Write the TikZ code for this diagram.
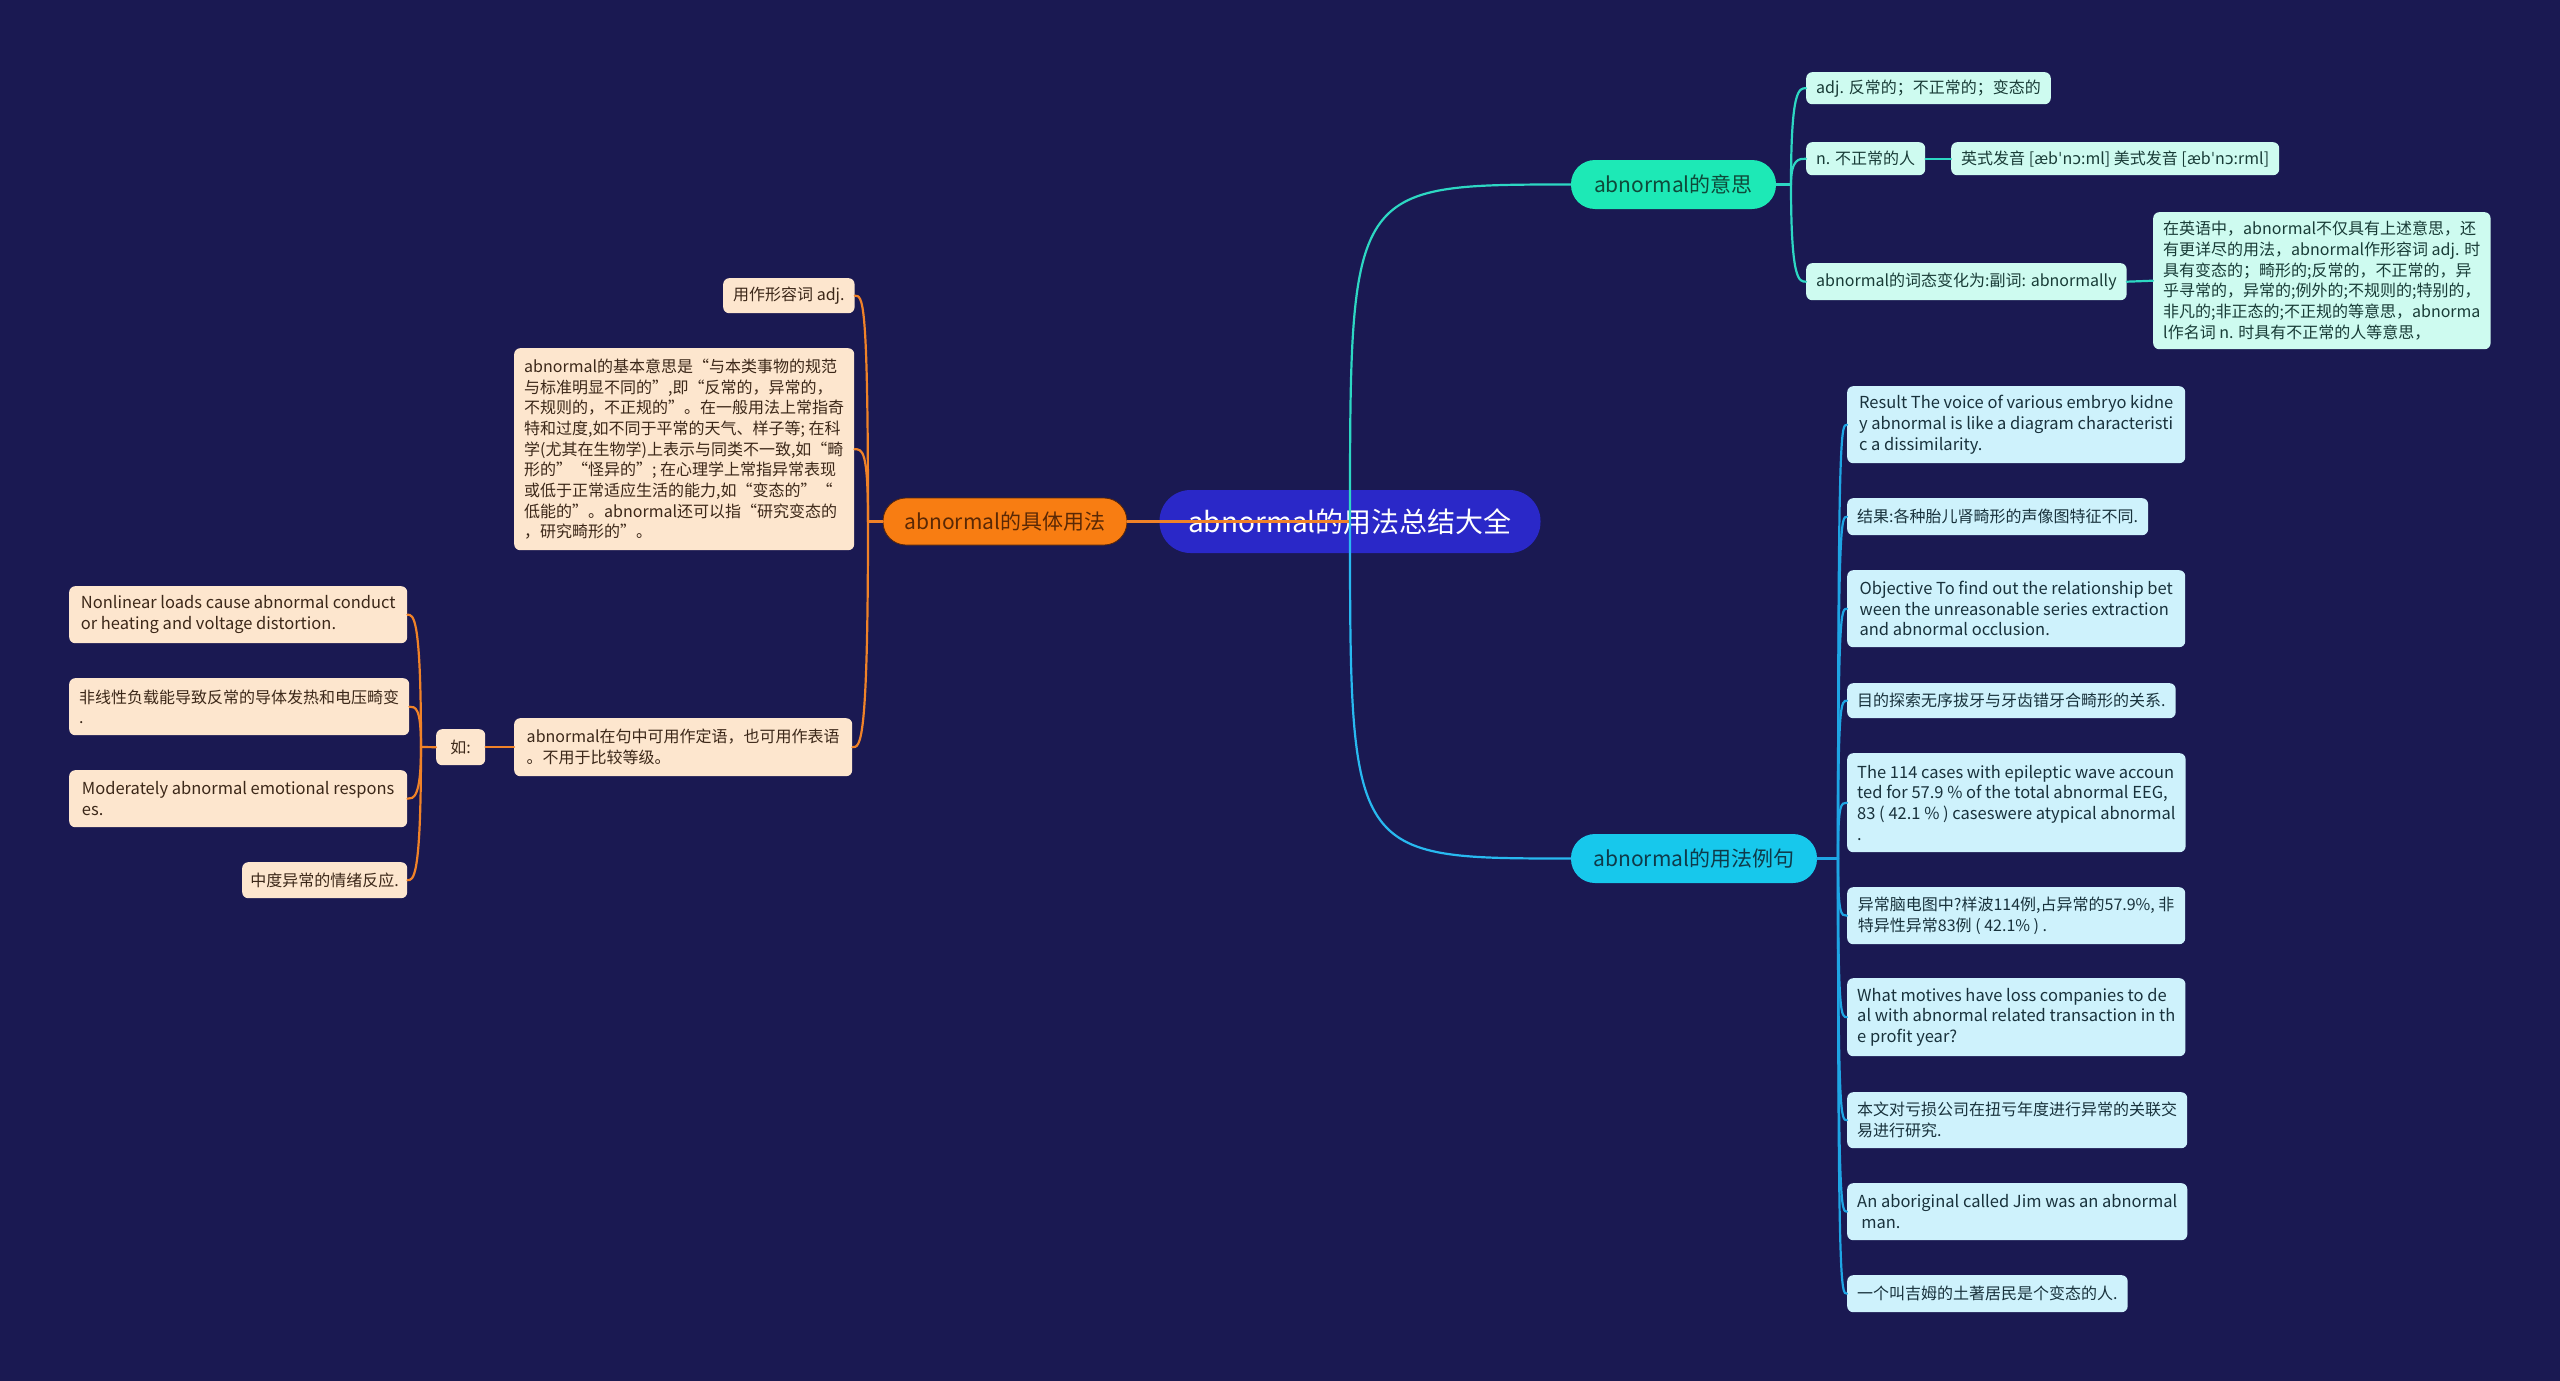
\documentclass[tikz,border=0pt]{standalone}
\usepackage{fontspec}
\setmainfont{Noto Sans CJK SC}
\newfontfamily\ipafont{DejaVu Sans}
\usetikzlibrary{calc}
\definecolor{bg}{RGB}{26,25,82}
\definecolor{rootblue}{RGB}{42,40,200}
\definecolor{orangeN}{RGB}{248,125,18}
\definecolor{orangeL}{RGB}{240,130,40}
\definecolor{brownT}{RGB}{90,40,5}
\definecolor{peach}{RGB}{253,230,206}
\definecolor{peachT}{RGB}{60,40,25}
\definecolor{tealN}{RGB}{29,233,182}
\definecolor{tealL}{RGB}{45,215,195}
\definecolor{mint}{RGB}{206,251,240}
\definecolor{mintT}{RGB}{25,60,55}
\definecolor{tealT}{RGB}{14,74,58}
\definecolor{skyN}{RGB}{23,200,236}
\definecolor{skyL}{RGB}{30,165,228}
\definecolor{skyR}{RGB}{40,185,240}
\definecolor{sky}{RGB}{206,242,252}
\definecolor{skyT}{RGB}{25,50,60}
\definecolor{skyNT}{RGB}{14,58,74}
\begin{document}
\begin{tikzpicture}[x=1pt,y=-1pt,
  wh/.style 2 args={minimum width=#1, minimum height=#2},
  leaf/.style={rounded corners=6pt, inner xsep=10pt, inner ysep=4pt, align=left, anchor=north west, font=\fontsize{16}{20.7}\selectfont},
  eng/.style={font=\fontsize{16.5}{20.7}\selectfont},
  pleaf/.style={leaf, fill=peach, text=peachT},
  tleaf/.style={leaf, fill=mint, text=mintT},
  cleaf/.style={leaf, fill=sky, text=skyT},
  branch/.style={inner sep=0pt, font=\fontsize{21}{25}\selectfont},
  con/.style={line width=2.2pt, line cap=round},
  ocon/.style={con, draw=orangeL},
  tcon/.style={con, draw=tealL},
  ccon/.style={con, draw=skyL}
]
\useasboundingbox (0,0) rectangle (2560,1381);
\fill[bg] (0,0) rectangle (2560,1381);

% root
\node[fill=rootblue, text=white, font=\fontsize{28}{34}\selectfont, inner sep=0pt, minimum width=381pt, minimum height=63pt, rounded corners=31pt] (root) at (1350,521.5) {abnormal的用法总结大全};

% branches
\node[branch, fill=orangeN, draw={rgb,255:red,90;green,40;blue,10}, line width=0.8pt, text=brownT, minimum width=244pt, minimum height=47pt, rounded corners=23pt] (jt) at (1005,521.5) {abnormal的具体用法};
\node[branch, fill=tealN, text=tealT, minimum width=205pt, minimum height=49pt, rounded corners=24pt] (yisi) at (1673.5,184.5) {abnormal的意思};
\node[branch, fill=skyN, text=skyNT, minimum width=246pt, minimum height=49pt, rounded corners=24pt] (lj) at (1694,858.5) {abnormal的用法例句};

% left leaves
\node[pleaf, wh={129pt}{35pt}] (padj) at (723,278) {用作形容词 adj.};
\node[pleaf, wh={338pt}{202pt}] (pbig) at (514,348) {abnormal的基本意思是“与本类事物的规范\\与标准明显不同的”,即“反常的，异常的，\\不规则的，不正规的”。在一般用法上常指奇\\特和过度,如不同于平常的天气、样子等; 在科\\学(尤其在生物学)上表示与同类不一致,如“畸\\形的”“怪异的”; 在心理学上常指异常表现\\或低于正常适应生活的能力,如“变态的”“\\低能的”。abnormal还可以指“研究变态的\\，研究畸形的”。};
\node[pleaf, wh={338pt}{58pt}] (pjz) at (514,718) {abnormal在句中可用作定语，也可用作表语\\。不用于比较等级。};
\node[pleaf, inner xsep=6pt, wh={49pt}{36pt}] (ru) at (436,729) {如:};
\node[pleaf, eng, wh={338pt}{57pt}] (pnl) at (69,586) {Nonlinear loads cause abnormal conduct\\or heating and voltage distortion.};
\node[pleaf, wh={338pt}{57pt}] (pfx) at (69,678) {非线性负载能导致反常的导体发热和电压畸变\\.};
\node[pleaf, eng, wh={338pt}{57pt}] (pmd) at (69,770) {Moderately abnormal emotional respons\\es.};
\node[pleaf, inner xsep=8pt, wh={165pt}{36pt}] (pzd) at (242,862) {中度异常的情绪反应.};

% meaning leaves
\node[tleaf, wh={241pt}{32pt}] (tadj) at (1806,72) {adj. 反常的；不正常的；变态的};
\node[tleaf, wh={114pt}{33pt}] (tn) at (1806,142) {n. 不正常的人};
\node[tleaf, wh={323pt}{33pt}] (tys) at (1951,142) {英式发音 [æb{\ipafont ˈ}n{\ipafont ɔ}:ml] 美式发音 [æb{\ipafont ˈ}n{\ipafont ɔ}:rml]};
\node[tleaf, wh={317pt}{37pt}] (tct) at (1806,263) {abnormal的词态变化为:副词: abnormally};
\node[tleaf, wh={337pt}{137pt}] (tzy) at (2153,212) {在英语中，abnormal不仅具有上述意思，还\\有更详尽的用法，abnormal作形容词 adj. 时\\具有变态的；畸形的;反常的，不正常的，异\\乎寻常的，异常的;例外的;不规则的;特别的，\\非凡的;非正态的;不正规的等意思，abnorma\\l作名词 n. 时具有不正常的人等意思，};

% example leaves
\node[cleaf, eng, wh={338pt}{77pt}] (c1) at (1847,386) {Result The voice of various embryo kidne\\y abnormal is like a diagram characteristi\\c a dissimilarity.};
\node[cleaf, wh={297pt}{37pt}] (c2) at (1847,498) {结果:各种胎儿肾畸形的声像图特征不同.};
\node[cleaf, eng, wh={338pt}{77pt}] (c3) at (1847,570) {Objective To find out the relationship bet\\ween the unreasonable series extraction\\and abnormal occlusion.};
\node[cleaf, wh={326pt}{35pt}] (c4) at (1847,683) {目的探索无序拔牙与牙齿错牙合畸形的关系.};
\node[cleaf, eng, wh={338pt}{99pt}] (c5) at (1847,753) {The 114 cases with epileptic wave accoun\\ted for 57.9 \% of the total abnormal EEG,\\83 ( 42.1 \% ) caseswere atypical abnormal\\.};
\node[cleaf, wh={338pt}{57pt}] (c6) at (1847,887) {异常脑电图中?样波114例,占异常的57.9\%, 非\\特异性异常83例 ( 42.1\% ) .};
\node[cleaf, eng, wh={338pt}{78pt}] (c7) at (1847,978) {What motives have loss companies to de\\al with abnormal related transaction in th\\e profit year?};
\node[cleaf, wh={338pt}{56pt}] (c8) at (1847,1092) {本文对亏损公司在扭亏年度进行异常的关联交\\易进行研究.};
\node[cleaf, eng, wh={338pt}{57pt}] (c9) at (1847,1183) {An aboriginal called Jim was an abnormal\\\hspace*{0.25em}man.};
\node[cleaf, wh={278pt}{37pt}] (c10) at (1847,1275) {一个叫吉姆的土著居民是个变态的人.};

% junctions
\coordinate (J1) at (868,521.5);
\coordinate (J2) at (421,747);
\coordinate (J3) at (1791,184.5);
\coordinate (J4) at (1838,858.5);

% root connectors (drawn over root)
\draw[ocon] (jt.east) -- (root.center);
\draw[con, draw=tealL] (root.center) .. controls (root.center |- yisi.west) .. (yisi.west);
\draw[con, draw=skyR] (root.center) .. controls (root.center |- lj.west) .. (lj.west);

% orange
\draw[ocon] (jt.west) -- (J1);
\foreach \c in {padj,pbig,pjz}
  \draw[ocon] (J1) .. controls (J1 |- \c.east) and ([xshift=8pt]\c.east) .. (\c.east);
\draw[ocon] (pjz.west) -- (ru.east);
\draw[ocon] (ru.west) -- (J2);
\foreach \c in {pnl,pfx,pmd,pzd}
  \draw[ocon] (J2) .. controls (J2 |- \c.east) and ([xshift=6pt]\c.east) .. (\c.east);

% teal
\draw[tcon] (yisi.east) -- (J3);
\foreach \c in {tadj,tn,tct}
  \draw[tcon] (J3) .. controls (J3 |- \c.west) and ([xshift=-7pt]\c.west) .. (\c.west);
\draw[tcon] (tn.east) -- (tys.west);
\draw[tcon] (tct.east) -- (tzy.west);

% sky
\draw[ccon] (lj.east) -- (J4);
\foreach \c in {c1,c2,c3,c4,c5,c6,c7,c8,c9,c10}
  \draw[ccon] (J4) .. controls (J4 |- \c.west) and ([xshift=-6pt]\c.west) .. (\c.west);
\end{tikzpicture}
\end{document}
